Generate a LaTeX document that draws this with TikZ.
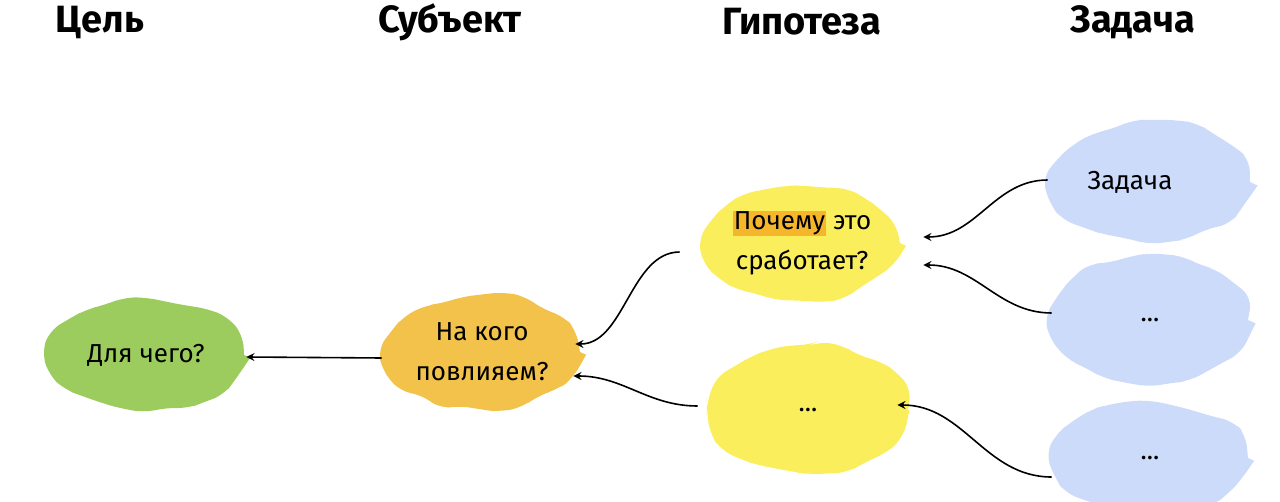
\documentclass[tikz,border=0pt]{standalone}
\usepackage{fontspec}
\setmainfont{Fira Sans}
\usetikzlibrary{shapes.geometric,decorations.pathmorphing,calc}
\definecolor{goalc}{HTML}{9CCC5E}
\definecolor{subjc}{HTML}{F2C24A}
\definecolor{hypc}{HTML}{FBEE5C}
\definecolor{taskc}{HTML}{CDDBFA}
\definecolor{markc}{HTML}{F5B62C}
\newcommand{\marked}[1]{{\setlength{\fboxsep}{0.5pt}\colorbox{markc}{#1}}}
\tikzset{
  head/.style={font=\fontsize{19}{22}\selectfont\bfseries},
  blob/.style={ellipse,fill=#1,inner sep=0pt,align=center,
    font=\fontsize{13}{20}\selectfont,
    decorate,decoration={random steps,segment length=10pt,amplitude=2pt},rounded corners=6pt},
  arr/.style={-stealth,thick,black}
}
\begin{document}
\begin{tikzpicture}[x=0.5pt,y=-0.5pt]
\pgfmathsetseed{7}
\useasboundingbox (0,0) rectangle (1280,502);
% headers
\node[head] (hgoal) at (100,22) {Цель};
\node[head] (hsubj) at (450,22) {Субъект};
\node[head] (hhyp) at (802,22) {Гипотеза};
\node[head] (htask) at (1133,22) {Задача};
% blobs
\node[blob=goalc,minimum width=98pt,minimum height=56pt] (goal) at (146,355) {Для чего?};
\node[blob=subjc,minimum width=98pt,minimum height=56pt] (subj) at (482,352) {На кого\\повлияем?};
\node[blob=hypc,minimum width=92pt,minimum height=56pt] (hyp1) at (802,243)
  {\marked{Почему} это\\сработает?};
\node[blob=hypc,minimum width=100pt,minimum height=64pt] (hyp2) at (808,410) {...};
\node[blob=taskc,minimum width=100pt,minimum height=60pt] (task1) at (1150,182) {\hspace*{-20pt}Задача};
\node[blob=taskc,minimum width=98pt,minimum height=64pt] (task2) at (1150,320) {...};
\node[blob=taskc,minimum width=98pt,minimum height=56pt] (task3) at (1150,458) {...};
% connectors
\draw[arr] ($(subj.west)+(-2,6)$) -- ($(goal.east)+(2,2)$);
\draw[arr] ($(hyp1.west)+(-24,9)$) to[out=180,in=0,looseness=0.9] ($(subj.east)+(-5,-8)$);
\draw[arr] ($(hyp2.west)+(-10,-4)$) to[out=180,in=0] ($(subj.east)+(-7,24)$);
\draw[arr] ($(task1.west)+(-2,-2)$) to[out=180,in=0] ($(hyp1.east)+(23,-6)$);
\draw[arr] ($(task2.west)+(0,-7)$) to[out=180,in=0] ($(hyp1.east)+(23,22)$);
\draw[arr] ($(task3.west)+(0,19)$) to[out=180,in=0] ($(hyp2.east)+(-11,-5)$);
\end{tikzpicture}
\end{document}
